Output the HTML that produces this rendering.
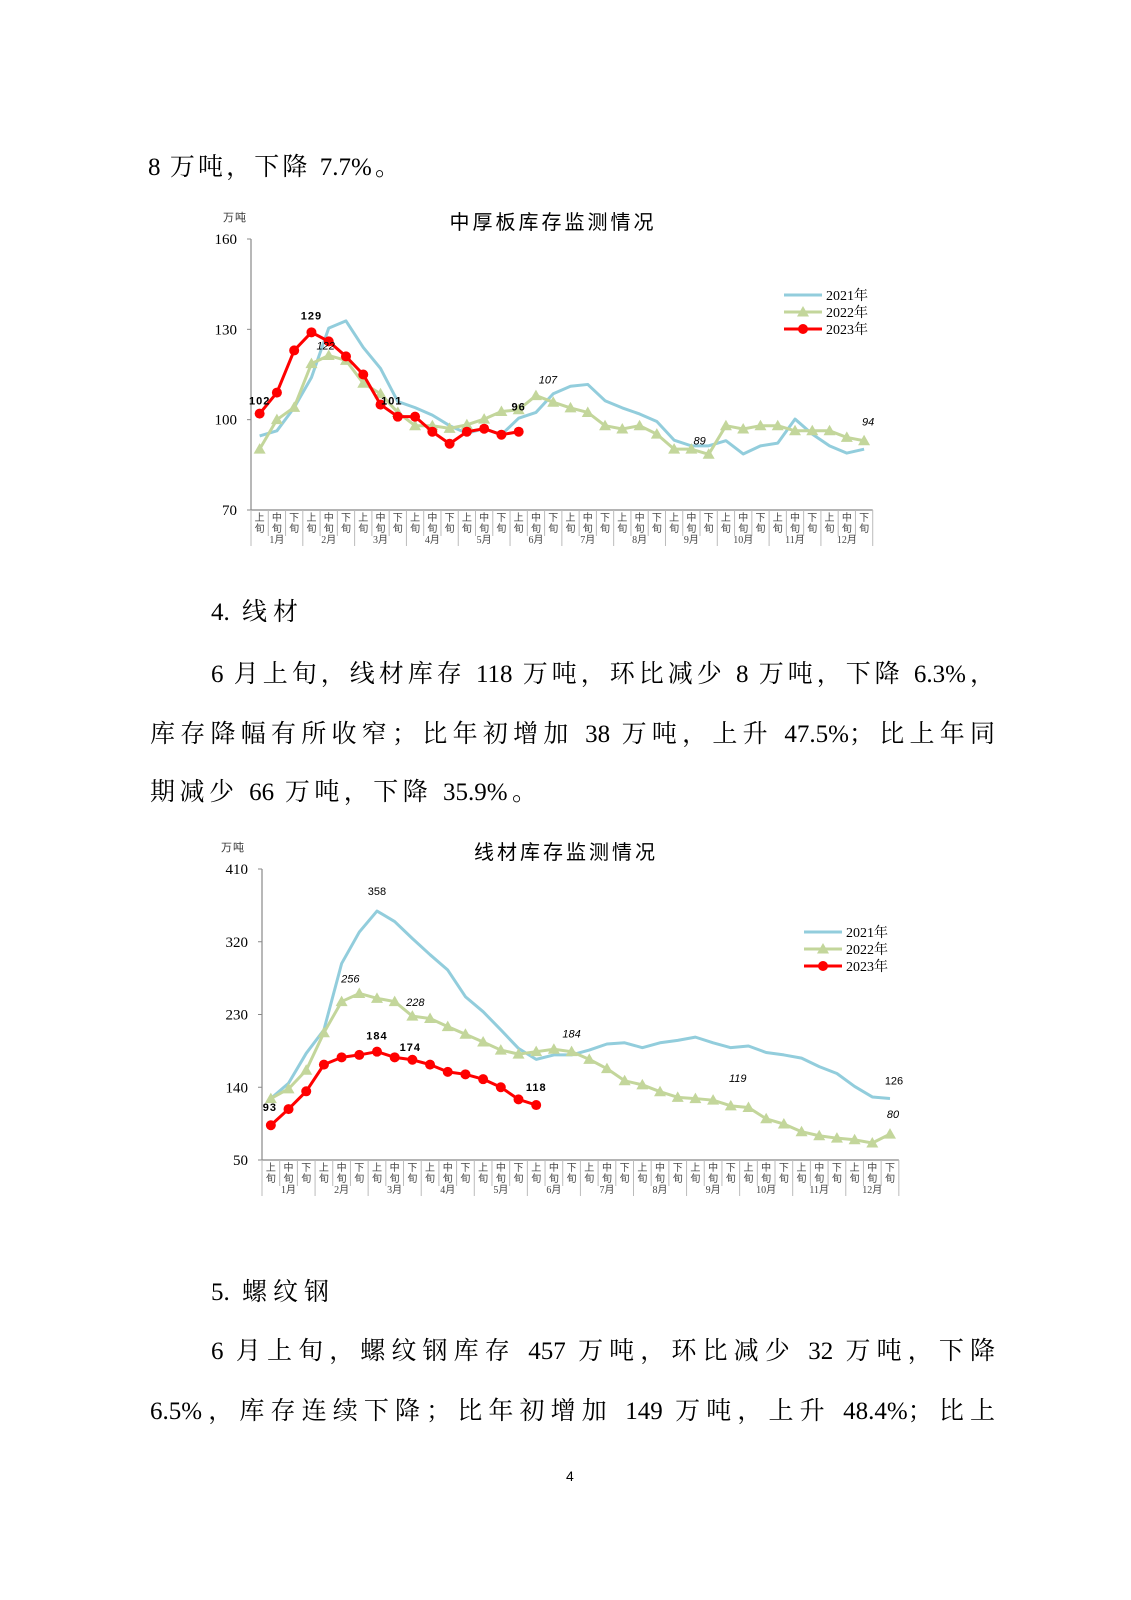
<!DOCTYPE html>
<html><head><meta charset="utf-8">
<style>
body{margin:0;background:#fff;}
#page{position:relative;width:1131px;height:1600px;overflow:hidden;background:#fff;font-family:"Liberation Serif","Noto Serif CJK SC",serif;color:#000;}
.ln{position:absolute;font-size:25px;line-height:30px;white-space:nowrap;text-align:justify;text-align-last:justify;}
svg{position:absolute;left:0;top:0;}
</style></head>
<body>
<div id="page">
<div class="ln" style="left:148px;top:153px;width:252px;">8 万吨，下降 7.7%。</div>
<div class="ln" style="left:211px;top:598px;width:87px;">4. 线材</div>
<div class="ln" style="left:211px;top:660px;width:784px;">6 月上旬，线材库存 118 万吨，环比减少 8 万吨，下降 6.3%，</div>
<div class="ln" style="left:150px;top:720px;width:845px;">库存降幅有所收窄；比年初增加 38 万吨，上升 47.5%；比上年同</div>
<div class="ln" style="left:150px;top:778px;width:387px;">期减少 66 万吨，下降 35.9%。</div>
<div class="ln" style="left:211px;top:1278px;width:118px;">5. 螺纹钢</div>
<div class="ln" style="left:211px;top:1337px;width:784px;">6 月上旬，螺纹钢库存 457 万吨，环比减少 32 万吨，下降</div>
<div class="ln" style="left:150px;top:1397px;width:845px;">6.5%，库存连续下降；比年初增加 149 万吨，上升 48.4%；比上</div>
<div style="position:absolute;left:566px;top:1468px;font:14px 'Liberation Sans',sans-serif;">4</div>
<svg id="charts" width="1131" height="1600"></svg>
</div>
<script>
const months = ["1月","2月","3月","4月","5月","6月","7月","8月","9月","10月","11月","12月"];
const periods = ["上","中","下"];
const seriesNames = ["2021年","2022年","2023年"];

const plateTicks = [70,100,130,160];
const plate2021 = [94.6,96.3,104,114,130.4,132.8,124,117,106,104,101.5,98,95.5,97,95,100.5,102.4,108.6,111.1,111.7,106.3,103.9,101.9,99.4,93.2,91.3,91.3,93,88.6,91.3,92.2,100.2,95.2,91.3,88.9,90.2];
const plate2022 = [90.2,100,104.1,118.6,121.3,119.7,112.1,108.6,102.4,98,98,97.1,98.3,100.2,102.7,103.3,108,105.8,103.9,102.4,98,96.9,98,95.2,90.2,90.2,88.5,98,96.9,98,98,96.3,96.3,96.3,94.1,93];
const plate2023 = [102,109,123,129,126,121,115,105,101,101,96,92,96,97,95,96];

const wireTicks = [50,140,230,320,410];
const wire2021 = [126,145,182,211,293,332,358,345,324,304,285,252,233.5,211,188,174.5,180,180,186,193.5,195,189,195,198,202,195,189,191,183,180,176,165.5,157,141,128,126];
const wire2022 = [126,138,161,207.5,246,256,250,246,228,225,215,205.5,196,186,181,184,187,184,174.5,163,148,143,134.5,127.5,126,124,117,115,101,94.5,85,80,77,75,71,82];
const wire2023 = [93,113,135,168,177,180,184,177,174,168,159,156,150,140,125,118];

const NS="http://www.w3.org/2000/svg";
const svg=document.getElementById('charts');
function mk(tag,attrs,parent){const e=document.createElementNS(NS,tag);for(const k in attrs)e.setAttribute(k,attrs[k]);(parent||svg).appendChild(e);return e;}
function txt(s,x,y,st,parent){const t=mk('text',Object.assign({x:x,y:y},st),parent);t.textContent=s;return t;}

function drawChart(c){
  const g=mk('g',{});
  
  
  const n=36;
  const xs=i=>c.left+(i+0.5)*c.step;
  const ys=v=>c.bottom-(v-c.min)*(c.bottom-c.top)/(c.max-c.min);
  const right=c.left+n*c.step;
  const tt=txt(c.title,c.titleX,c.titleY,{'font-size':20,'text-anchor':'middle','letter-spacing':3,'font-family':"'Liberation Serif','Noto Sans CJK SC',sans-serif"},g);
  
  
  const ut=txt('万吨',c.unitX,c.unitY,{'font-size':11,'fill':'#333','letter-spacing':1,'font-family':"'Noto Sans CJK SC',sans-serif"},g);
  
  
  const ya=mk('line',{x1:c.left,y1:c.top,x2:c.left,y2:c.bottom,stroke:'#888','stroke-width':1.2},g);
  
  
  c.ticks.forEach(v=>{
    const tl=txt(String(v),c.left-14,ys(v)+5,{'font-size':15,'text-anchor':'end'},g);
    
    
    mk('line',{x1:c.left-4,y1:ys(v),x2:c.left,y2:ys(v),stroke:'#888'},g);
  });
  const xa=mk('line',{x1:c.left,y1:c.bottom,x2:right,y2:c.bottom,stroke:'#888','stroke-width':1.2},g);
  
  
  for(let i=0;i<=n;i++){
    const x=c.left+i*c.step;
    mk('line',{x1:x,y1:c.bottom,x2:x,y2:c.bottom+(i%3===0?36:26),stroke:'#bbb'},g);
    if(i<n){
      const a=txt(periods[i%3],xs(i),c.bottom+11,{'font-size':10,'text-anchor':'middle','fill':'#444','font-family':"'Noto Sans CJK SC',sans-serif"},g);
      
      
      txt('旬',xs(i),c.bottom+22,{'font-size':10,'text-anchor':'middle','fill':'#444','font-family':"'Noto Sans CJK SC',sans-serif"},g);
    }
  }
  months.forEach((m,k)=>{
    const ml=txt(m,c.left+(k*3+1.5)*c.step,c.bottom+33,{'font-size':10,'text-anchor':'middle','fill':'#444','font-family':"'Liberation Serif','Noto Sans CJK SC',sans-serif"},g);
    
    
  });
  const cols=['#92CDDC','#C3D69B','#FF0000'];
  const data=[c.s1,c.s2,c.s3];
  data.forEach((arr,si)=>{
    const p=mk('polyline',{points:arr.map((v,i)=>xs(i)+','+ys(v)).join(' '),fill:'none',stroke:cols[si],'stroke-width':3,'stroke-linejoin':'round'},g);
    
    
    if(si===1){arr.forEach((v,i)=>{const x=xs(i),y=ys(v);
      const m=mk('polygon',{points:`${x},${y-6} ${x-6},${y+4.5} ${x+6},${y+4.5}`,fill:cols[1]},g);
      
      });}
    if(si===2){arr.forEach((v,i)=>{
      const m=mk('circle',{cx:xs(i),cy:ys(v),r:5,fill:cols[2]},g);
      
      });}
  });
  c.labels.forEach(l=>{
    const arr=data[l.s];const v=arr[l.i];
    const t=txt(l.t,xs(l.i)+l.dx,ys(v)+l.dy,{'font-size':11,'text-anchor':'middle','font-weight':l.s===2?'bold':'normal','font-style':l.s===1?'italic':'normal','font-family':"'Liberation Sans',sans-serif",'letter-spacing':l.s===2?1:0},g);
    
    
  });
  seriesNames.forEach((nm,si)=>{
    const y=c.legY+si*17;
    const lg=mk('g',{},g);
    
    
    mk('line',{x1:c.legX,y1:y,x2:c.legX+38,y2:y,stroke:cols[si],'stroke-width':3},lg);
    const mx=c.legX+19;
    if(si===1)mk('polygon',{points:`${mx},${y-6} ${mx-6},${y+4.5} ${mx+6},${y+4.5}`,fill:cols[1]},lg);
    if(si===2)mk('circle',{cx:mx,cy:y,r:5,fill:cols[2]},lg);
    txt(nm,c.legX+42,y+5,{'font-size':14,'font-family':"'Liberation Serif','Noto Serif CJK SC',serif"},lg);
  });
}

drawChart({name:'plate-inventory-chart',title:'中厚板库存监测情况',titleX:553,titleY:229,unitX:223,unitY:221,
  left:251,step:17.27,top:239,bottom:510,min:70,max:160,ticks:plateTicks,
  s1:plate2021,s2:plate2022,s3:plate2023,legX:784,legY:295,
  labels:[{s:2,i:0,t:'102',dx:0,dy:-9},{s:2,i:3,t:'129',dx:0,dy:-13},{s:1,i:4,t:'122',dx:-3,dy:-6},{s:2,i:8,t:'101',dx:-6,dy:-12},{s:2,i:15,t:'96',dx:0,dy:-21},{s:1,i:16,t:'107',dx:12,dy:-12},{s:1,i:26,t:'89',dx:-9,dy:-10},{s:1,i:35,t:'94',dx:4,dy:-15}]});

drawChart({name:'wire-rod-inventory-chart',title:'线材库存监测情况',titleX:566,titleY:859,unitX:221,unitY:851,
  left:262,step:17.69,top:869,bottom:1160,min:50,max:410,ticks:wireTicks,
  s1:wire2021,s2:wire2022,s3:wire2023,legX:804,legY:932,
  labels:[{s:0,i:6,t:'358',dx:0,dy:-16},{s:1,i:5,t:'256',dx:-9,dy:-11},{s:1,i:8,t:'228',dx:3,dy:-10},{s:2,i:6,t:'184',dx:0,dy:-12},{s:2,i:8,t:'174',dx:-2,dy:-9},{s:2,i:0,t:'93',dx:-1,dy:-14},{s:2,i:15,t:'118',dx:0,dy:-14},{s:1,i:17,t:'184',dx:0,dy:-14},{s:1,i:26,t:'119',dx:7,dy:-24},{s:0,i:35,t:'126',dx:4,dy:-14},{s:1,i:35,t:'80',dx:3,dy:-16}]});
</script>
</body></html>
